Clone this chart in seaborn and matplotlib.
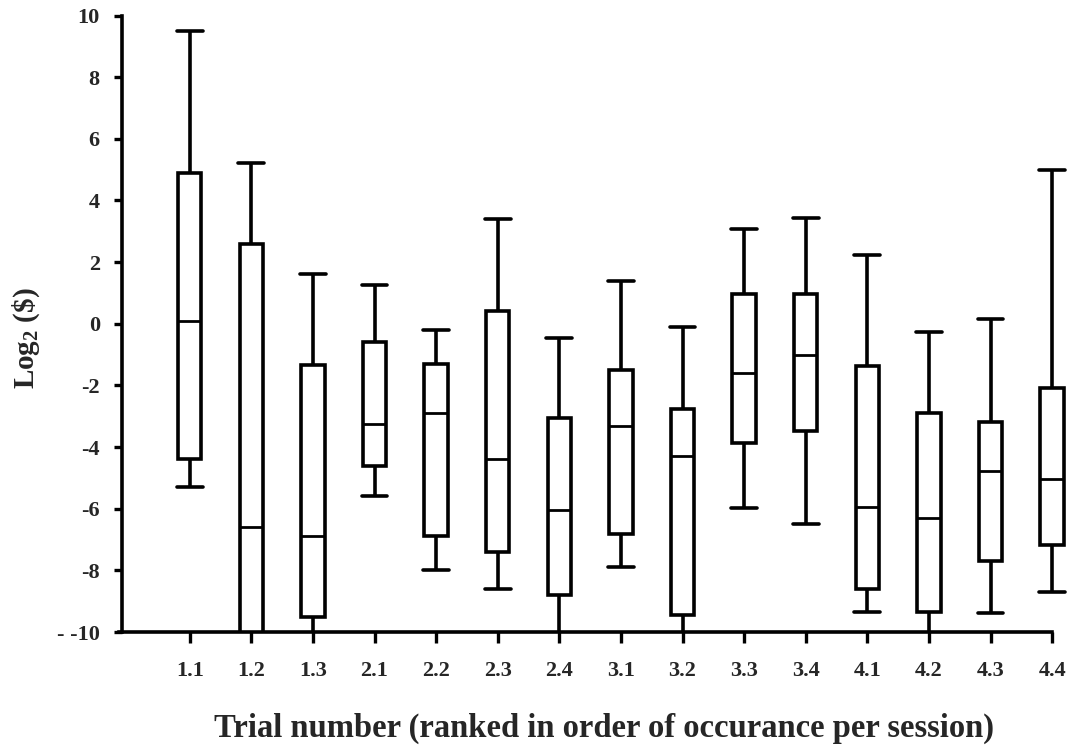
import numpy as np
import pandas as pd
import matplotlib
matplotlib.use("Agg")
import matplotlib.pyplot as plt
import seaborn as sns

trials = ["1.1", "1.2", "1.3", "2.1", "2.2", "2.3", "2.4", "3.1",
          "3.2", "3.3", "3.4", "4.1", "4.2", "4.3", "4.4"]
whisker_low = [-5.3, -11.0, -10.6, -5.6, -8.0, -8.6, -10.6, -7.9,
               -10.6, -5.97, -6.5, -9.35, -10.6, -9.38, -8.7]
q1 = [-4.4, -10.5, -9.5, -4.6, -6.9, -7.4, -8.8, -6.82,
      -9.46, -3.86, -3.47, -8.6, -9.36, -7.7, -7.19]
median = [0.1, -6.6, -6.9, -3.25, -2.9, -4.4, -6.05, -3.31,
          -4.3, -1.6, -1.0, -5.93, -6.29, -4.79, -5.04]
q3 = [4.9, 2.6, -1.35, -0.6, -1.3, 0.4, -3.05, -1.5,
      -2.78, 0.98, 0.98, -1.38, -2.9, -3.19, -2.08]
whisker_high = [9.5, 5.2, 1.6, 1.25, -0.2, 3.4, -0.45, 1.39,
                -0.12, 3.06, 3.42, 2.22, -0.27, 0.15, 5.0]
ytick_vals = [-10, -8, -6, -4, -2, 0, 2, 4, 6, 8, 10]
ytick_labels = ["- -10", "-8", "-6", "-4", "-2", "0", "2", "4", "6", "8", "10"]

rows = []
for t, a, b, c, d, e in zip(trials, whisker_low, q1, median, q3, whisker_high):
    for v in (a, b, c, d, e):
        rows.append({"trial": t, "value": v})
df = pd.DataFrame(rows)

sns.set_style("ticks")
plt.rcParams["font.family"] = ["Liberation Serif", "DejaVu Serif"]
plt.rcParams["mathtext.default"] = "regular"

W, H = 1072, 753
ax_left_px, ax_top_px, ax_bottom_px = 122, 15.5, 632
x_lo, x_hi = -1.10, 14.30
unit_px = 61.6
ax_w_px = (x_hi - x_lo) * unit_px
ax_h_px = ax_bottom_px - ax_top_px

fig = plt.figure(figsize=(W / 100, H / 100), dpi=100)
ax = fig.add_axes([ax_left_px / W, 1 - ax_bottom_px / H, ax_w_px / W, ax_h_px / H])

sns.boxplot(data=df, x="trial", y="value", order=trials, ax=ax,
            whis=(0, 100), width=0.38, color="white", linecolor="black",
            linewidth=2.6, fliersize=0, capwidths=0.42,
            medianprops={"linewidth": 2.0})

ax.set_ylim(-10, 10)
ax.set_xlim(x_lo, x_hi)
ax.spines["bottom"].set_bounds(-1.15, 14.0)
ax.set_yticks(ytick_vals)
ax.set_yticklabels(ytick_labels, fontsize=16, fontweight="bold")
ax.set_xticks(range(len(trials)))
ax.set_xticklabels(trials, fontsize=16, fontweight="bold")
ax.tick_params(axis="both", direction="out", width=2.4, color="black")
ax.tick_params(axis="x", length=8, pad=13)
ax.tick_params(axis="y", length=6, pad=10)
for s in ("top", "right"):
    ax.spines[s].set_visible(False)
for s in ("left", "bottom"):
    ax.spines[s].set_linewidth(2.6)
    ax.spines[s].set_color("black")

ax.set_xlabel("Trial number (ranked in order of occurance per session)",
              fontsize=23.5, fontweight="bold")
ax.xaxis.set_label_coords((604 - ax_left_px) / ax_w_px, (ax_bottom_px - 713) / ax_h_px)
ax.xaxis.label.set_verticalalignment("top")
ax.set_ylabel(r"Log$_{2}$ (\$)", fontsize=21, fontweight="bold")
ax.yaxis.set_label_coords((42 - ax_left_px) / ax_w_px, (ax_bottom_px - 338) / ax_h_px)

fig.savefig("out.png", dpi=100, facecolor="white")
